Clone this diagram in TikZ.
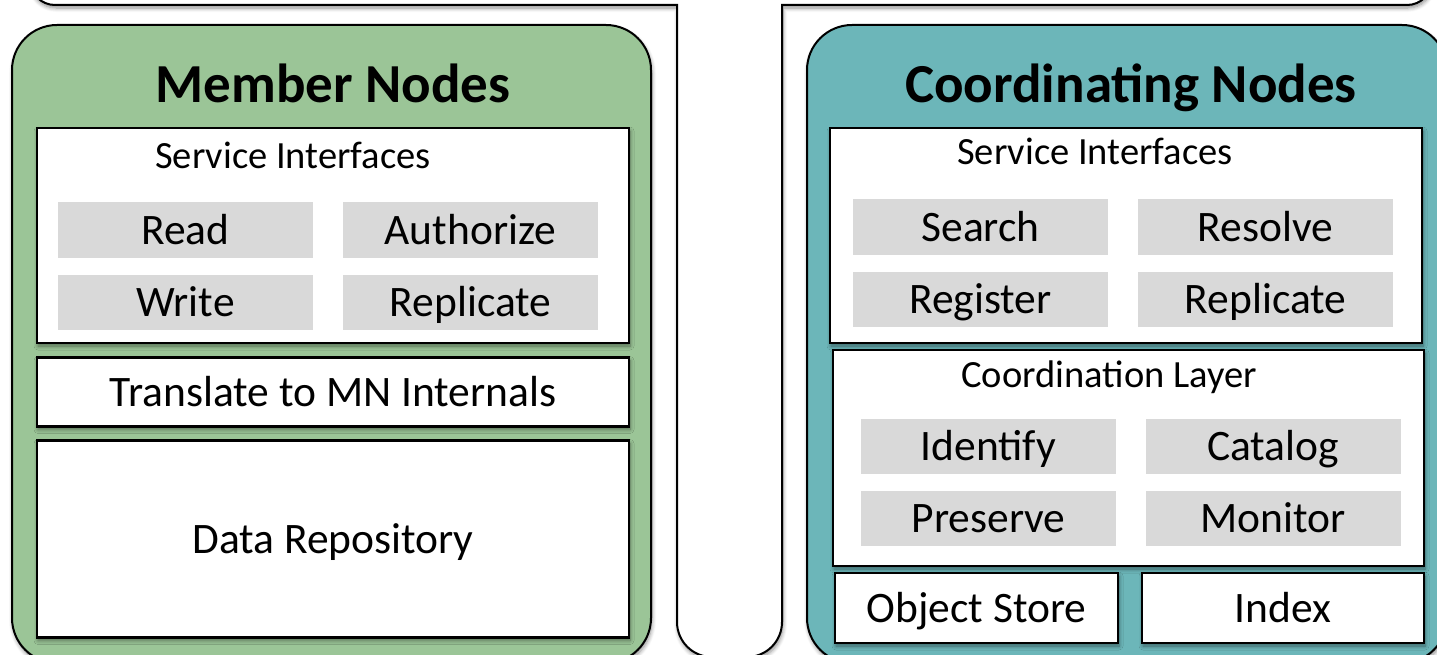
\documentclass[tikz,border=0pt]{standalone}
\usepackage{fontspec}
\setmainfont{Carlito}
\usetikzlibrary{shadows.blur}
\definecolor{mngreen}{RGB}{155,197,151}
\definecolor{cnteal}{RGB}{108,182,185}
\definecolor{opgray}{RGB}{217,217,217}
\tikzset{
  shad/.style={blur shadow={shadow xshift=1pt, shadow yshift=-3pt, shadow blur steps=6, shadow blur radius=4pt, shadow opacity=45}},
  panel/.style={draw=black, line width=2pt, rounded corners=45pt, inner sep=0pt, shad},
  wbox/.style={draw=black, line width=2.5pt, fill=white, inner sep=0pt, shad},
  obox/.style={fill=opgray, inner sep=0pt, minimum width=255pt, minimum height=55pt, font=\fontsize{43.5}{48}\selectfont, text height=28pt, text depth=0pt},
  ttl/.style={font=\fontsize{55}{60}\selectfont\bfseries, inner sep=0pt, anchor=base},
  sub/.style={font=\fontsize{38.5}{42}\selectfont, inner sep=0pt, text height=24.8pt, text depth=0pt},
  big/.style={font=\fontsize{43.5}{48}\selectfont, inner sep=0pt, text height=28pt, text depth=0pt},
  outer/.style={draw=black, line width=2pt, fill=white, shad}
}
\begin{document}
\begin{tikzpicture}[x=1pt,y=-1pt]
\useasboundingbox (0,0) rectangle (1437,655);
% outer frame (cut off)
\draw[outer] (30,-80) [rounded corners=25pt] -- (30,5) [sharp corners] -- (677,5) [rounded corners=35pt] -- (677,657) -- (782,657) [sharp corners] -- (782,5) [rounded corners=25pt] -- (1432,5) [sharp corners] -- (1432,-80) -- cycle;
% Member Nodes panel
\node[panel, fill=mngreen, minimum width=639pt, minimum height=638pt] (mn) at (331.5,344) {};
\node[ttl] (mnt) at (333,103) {Member Nodes};
\node[wbox, minimum width=592pt, minimum height=215pt] (msi) at (333,235.5) {};
\node[sub] (msit) at (293,156.5) {Service Interfaces};
\node[obox] (read) at (185.5,230) {Read};
\node[obox] (auth) at (470.5,230) {Authorize};
\node[obox] (write) at (185.5,302) {Write};
\node[obox] (mrep) at (470.5,302) {Replicate};
\node[wbox, big, minimum width=592pt, minimum height=69pt] (trans) at (333,392) {Translate to MN Internals};
\node[wbox, big, minimum width=592pt, minimum height=197pt] (repo) at (333,539) {Data Repository};
% Coordinating Nodes panel
\node[panel, fill=cnteal, minimum width=640pt, minimum height=638pt] (cn) at (1127,344) {};
\node[ttl] (cnt) at (1131,103) {Coordinating Nodes};
\node[wbox, minimum width=592pt, minimum height=215pt] (csi) at (1126,235.5) {};
\node[sub] (csit) at (1095,152.5) {Service Interfaces};
\node[obox] (search) at (980.5,227) {Search};
\node[obox] (resolve) at (1265.5,227) {Resolve};
\node[obox] (register) at (980.5,299) {Register};
\node[obox] (crep) at (1265.5,299) {Replicate};
\node[wbox, minimum width=591pt, minimum height=216pt] (cl) at (1128.5,458) {};
\node[sub] (clt) at (1109,375.5) {Coordination Layer};
\node[obox] (ident) at (988.5,446) {Identify};
\node[obox] (catalog) at (1273,446) {Catalog};
\node[obox] (preserve) at (988.5,518) {Preserve};
\node[obox] (monitor) at (1273,518) {Monitor};
\node[wbox, big, minimum width=283pt, minimum height=70pt] (ostore) at (976.5,608) {Object Store};
\node[wbox, big, minimum width=282pt, minimum height=70pt] (index) at (1283,608) {Index};
\end{tikzpicture}
\end{document}
